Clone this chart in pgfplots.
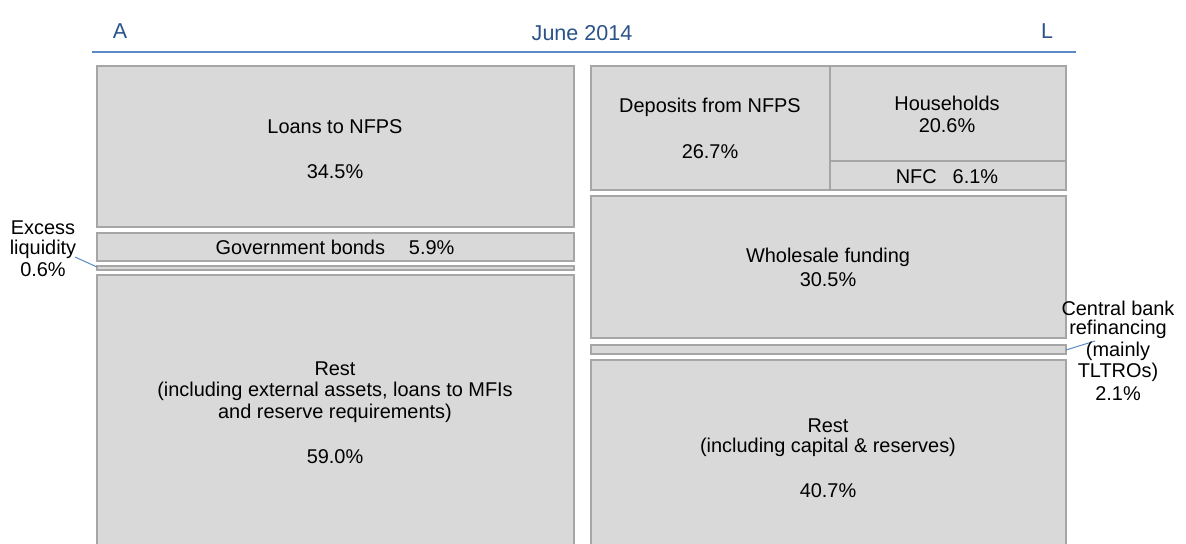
\documentclass[border=0pt]{standalone}
\usepackage{pgfplots}
\pgfplotsset{compat=1.18}
\usepackage{fontspec}
\setmainfont{Liberation Sans}
\definecolor{boxfill}{HTML}{D9D9D9}
\definecolor{boxedge}{HTML}{A6A6A6}
\definecolor{titleblue}{HTML}{2A538A}
\definecolor{lineblue}{HTML}{5B8AC6}
\newcommand{\bx}[4]{\addplot[fill=boxfill, draw=boxedge, line width=1bp] coordinates {(#1,#3) (#2,#3) (#2,#4) (#1,#4)} -- cycle;}
\begin{document}
\begin{tikzpicture}
\useasboundingbox (0,0) rectangle (593bp,272bp);
\begin{axis}[
  at={(0,0)}, anchor=south west,
  scale only axis, width=593bp, height=272bp,
  xmin=0, xmax=1186, ymin=0, ymax=544, y dir=reverse,
  hide axis, clip=true,
  every node/.style={font=\fontsize{8.7}{10}\selectfont, align=center, text=black},
]
% Assets (left column): x1 x2 ytop ybottom
\bx{97}{574}{66}{227}   % Loans to NFPS 34.5%
\bx{97}{574}{233}{261}  % Government bonds 5.9%
\bx{97}{574}{266}{270}  % Excess liquidity 0.6%
\bx{97}{574}{275}{552}  % Rest 59.0%
% Liabilities (right column)
\bx{591}{830}{66}{190}   % Deposits from NFPS 26.7%
\bx{830}{1066}{66}{161}  % Households 20.6%
\bx{830}{1066}{161}{190} % NFC 6.1%
\bx{591}{1066}{196}{338} % Wholesale funding 30.5%
\bx{591}{1066}{345}{354} % Central bank refinancing 2.1%
\bx{591}{1066}{360}{552} % Rest 40.7%
% header line
\addplot[draw=lineblue, line width=1bp] coordinates {(92,52) (1076,52)};
% leader lines
\addplot[draw=lineblue, line width=0.5bp] coordinates {(75,257) (97,267)};
\addplot[draw=lineblue, line width=0.5bp] coordinates {(1066,350) (1095,341)};
% header text
\node[text=titleblue, font=\fontsize{10.8}{12}\selectfont] at (axis cs:120,31) {A};
\node[text=titleblue, font=\fontsize{10.8}{12}\selectfont] at (axis cs:582,33) {June 2014};
\node[text=titleblue, font=\fontsize{10.8}{12}\selectfont] at (axis cs:1047,31) {L};
% left labels
\node at (axis cs:335,127) {Loans to NFPS};
\node at (axis cs:335,172) {34.5\%};
\node at (axis cs:335,247) {Government bonds\hspace{1.2em}5.9\%};
\node at (axis cs:335,369) {Rest};
\node at (axis cs:335,391) {(including external assets, loans to MFIs};
\node at (axis cs:335,413) {and reserve requirements)};
\node at (axis cs:335,457) {59.0\%};
\node at (axis cs:43,228) {Excess};
\node at (axis cs:43,249) {liquidity};
\node at (axis cs:43,270) {0.6\%};
% right labels
\node at (axis cs:710,107) {Deposits from NFPS};
\node at (axis cs:710,152) {26.7\%};
\node at (axis cs:947,103) {Households};
\node at (axis cs:947,126) {20.6\%};
\node at (axis cs:947,177) {NFC\hspace{0.8em}6.1\%};
\node at (axis cs:828,257) {Wholesale funding};
\node at (axis cs:828,280) {30.5\%};
\node at (axis cs:828,426) {Rest};
\node at (axis cs:828,447) {(including capital \& reserves)};
\node at (axis cs:828,491) {40.7\%};
\node at (axis cs:1118,308) {Central bank};
\node at (axis cs:1118,329) {refinancing};
\node at (axis cs:1118,351) {(mainly};
\node at (axis cs:1118,372) {TLTROs)};
\node at (axis cs:1118,394) {2.1\%};
\end{axis}
\end{tikzpicture}
\end{document}
